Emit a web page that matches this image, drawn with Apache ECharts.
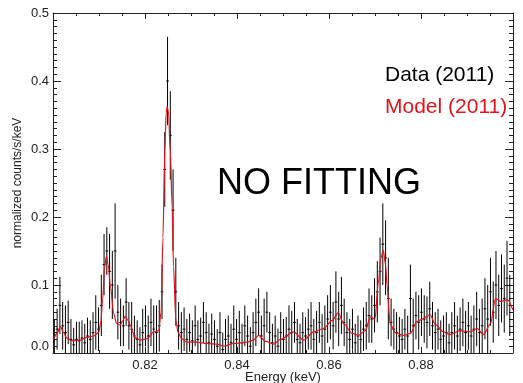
<!DOCTYPE html>
<html>
<head>
<meta charset="utf-8">
<script src="https://cdn.jsdelivr.net/npm/echarts@6/dist/echarts.min.js"></script>
<style>
  html, body { margin: 0; padding: 0; background: #fff; }
  #chart { width: 523px; height: 383px; }
</style>
</head>
<body>
<div id="chart"></div>
<script>
// Binned spectrum: bin centre energies (keV)
const dataEnergy = [
  0.8003, 0.8009, 0.8015, 0.8021, 0.8027, 0.8033, 0.8039, 0.8045, 0.8051, 0.8057,
  0.8063, 0.8069, 0.8075, 0.8081, 0.8087, 0.8093, 0.8099, 0.8105, 0.8111, 0.8117,
  0.8123, 0.8129, 0.8135, 0.8141, 0.8147, 0.8153, 0.8159, 0.8165, 0.8171, 0.8177,
  0.8183, 0.8189, 0.8195, 0.8201, 0.8207, 0.8213, 0.8219, 0.8225, 0.8231, 0.8237,
  0.8243, 0.8249, 0.8255, 0.8261, 0.8267, 0.8273, 0.8279, 0.8285, 0.8291, 0.8297,
  0.8303, 0.8309, 0.8315, 0.8321, 0.8327, 0.8333, 0.8339, 0.8345, 0.8351, 0.8357,
  0.8363, 0.8369, 0.8375, 0.8381, 0.8387, 0.8393, 0.8399, 0.8405, 0.8411, 0.8417,
  0.8423, 0.8429, 0.8435, 0.8441, 0.8447, 0.8453, 0.8459, 0.8465, 0.8471, 0.8477,
  0.8483, 0.8489, 0.8495, 0.8501, 0.8507, 0.8513, 0.8519, 0.8525, 0.8531, 0.8537,
  0.8543, 0.8549, 0.8555, 0.8561, 0.8567, 0.8573, 0.8579, 0.8585, 0.8591, 0.8597,
  0.8603, 0.8609, 0.8615, 0.8621, 0.8627, 0.8633, 0.8639, 0.8645, 0.8651, 0.8657,
  0.8663, 0.8669, 0.8675, 0.8681, 0.8687, 0.8693, 0.8699, 0.8705, 0.8711, 0.8717,
  0.8723, 0.8729, 0.8735, 0.8741, 0.8747, 0.8753, 0.8759, 0.8765, 0.8771, 0.8777,
  0.8783, 0.8789, 0.8795, 0.8801, 0.8807, 0.8813, 0.8819, 0.8825, 0.8831, 0.8837,
  0.8843, 0.8849, 0.8855, 0.8861, 0.8867, 0.8873, 0.8879, 0.8885, 0.8891, 0.8897,
  0.8903, 0.8909, 0.8915, 0.8921, 0.8927, 0.8933, 0.8939, 0.8945, 0.8951, 0.8957,
  0.8963, 0.8969, 0.8975, 0.8981, 0.8987, 0.8993
];

// Observed rate per bin (counts/s/keV)
const dataValue = [
  0.025, 0.035, 0.070, 0.040, 0.030, 0.045, 0.020, 0.012, 0.020, 0.018,
  0.022, 0.015, 0.025, 0.020, 0.030, 0.045, 0.035, 0.070, 0.130, 0.150,
  0.120, 0.100, 0.150, 0.060, 0.045, 0.040, 0.075, 0.040, 0.035, 0.025,
  0.020, 0.012, 0.030, 0.040, 0.025, 0.045, 0.035, 0.030, 0.040, 0.090,
  0.270, 0.400, 0.320, 0.210, 0.090, 0.040, 0.030, 0.035, 0.020, 0.030,
  0.018, 0.040, 0.020, 0.025, 0.045, 0.030, 0.015, 0.028, 0.020, 0.010,
  0.030, 0.005, 0.020, 0.025, 0.015, 0.035, 0.020, 0.030, 0.015, 0.040,
  0.025, 0.010, 0.030, 0.045, 0.060, 0.025, 0.040, 0.060, 0.030, 0.015,
  0.025, 0.010, 0.030, 0.020, 0.025, 0.035, 0.030, 0.045, 0.020, 0.015,
  0.030, 0.025, 0.035, 0.040, 0.020, 0.030, 0.045, 0.025, 0.035, 0.050,
  0.060, 0.040, 0.075, 0.050, 0.070, 0.045, 0.030, 0.020, 0.035, 0.015,
  0.025, 0.020, 0.035, 0.040, 0.055, 0.050, 0.070, 0.090, 0.120, 0.160,
  0.140, 0.080, 0.045, 0.035, 0.030, 0.025, 0.020, 0.035, 0.025, 0.080,
  0.040, 0.055, 0.045, 0.060, 0.050, 0.045, 0.065, 0.040, 0.030, 0.035,
  0.020, 0.025, 0.030, 0.015, 0.030, 0.040, 0.025, 0.035, 0.045, 0.030,
  0.040, 0.025, 0.035, 0.050, 0.030, 0.040, 0.065, 0.050, 0.090, 0.060,
  0.100, 0.070, 0.095, 0.080, 0.110, 0.070
];

// 1-sigma uncertainty per bin
const dataError = [
  0.025, 0.030, 0.042, 0.035, 0.040, 0.032, 0.030, 0.025, 0.026, 0.028,
  0.026, 0.028, 0.027, 0.028, 0.030, 0.040, 0.032, 0.045, 0.045, 0.035,
  0.055, 0.050, 0.070, 0.040, 0.035, 0.030, 0.035, 0.035, 0.040, 0.030,
  0.028, 0.026, 0.035, 0.030, 0.030, 0.035, 0.035, 0.040, 0.038, 0.040,
  0.055, 0.065, 0.065, 0.060, 0.050, 0.035, 0.030, 0.032, 0.030, 0.028,
  0.030, 0.030, 0.028, 0.027, 0.030, 0.030, 0.028, 0.030, 0.028, 0.025,
  0.030, 0.025, 0.030, 0.030, 0.028, 0.035, 0.030, 0.032, 0.028, 0.030,
  0.030, 0.028, 0.030, 0.035, 0.035, 0.030, 0.040, 0.030, 0.030, 0.028,
  0.030, 0.026, 0.030, 0.030, 0.028, 0.035, 0.032, 0.030, 0.030, 0.028,
  0.030, 0.028, 0.030, 0.035, 0.030, 0.032, 0.030, 0.032, 0.035, 0.035,
  0.040, 0.035, 0.045, 0.040, 0.042, 0.035, 0.030, 0.030, 0.030, 0.028,
  0.030, 0.028, 0.032, 0.035, 0.040, 0.035, 0.040, 0.045, 0.050, 0.060,
  0.055, 0.060, 0.035, 0.030, 0.030, 0.028, 0.030, 0.030, 0.030, 0.050,
  0.040, 0.035, 0.040, 0.035, 0.035, 0.038, 0.040, 0.035, 0.030, 0.030,
  0.028, 0.030, 0.030, 0.028, 0.030, 0.035, 0.030, 0.032, 0.035, 0.032,
  0.035, 0.030, 0.035, 0.040, 0.035, 0.040, 0.045, 0.050, 0.050, 0.045,
  0.050, 0.045, 0.050, 0.050, 0.055, 0.045
];

// Model curve
const modelEnergy = [
  0.8000, 0.8008, 0.8016, 0.8023, 0.8030, 0.8041, 0.8059, 0.8074, 0.8088, 0.8099,
  0.8104, 0.8108, 0.8112, 0.8116, 0.8120, 0.8125, 0.8132, 0.8138, 0.8146, 0.8152,
  0.8157, 0.8163, 0.8168, 0.8174, 0.8179, 0.8190, 0.8204, 0.8219, 0.8230, 0.8235,
  0.8239, 0.8243, 0.8246, 0.8248, 0.8251, 0.8255, 0.8259, 0.8262, 0.8267, 0.8272,
  0.8280, 0.8291, 0.8313, 0.8335, 0.8357, 0.8371, 0.8393, 0.8422, 0.8436, 0.8447,
  0.8462, 0.8480, 0.8494, 0.8523, 0.8545, 0.8567, 0.8588, 0.8607, 0.8620, 0.8632,
  0.8650, 0.8664, 0.8679, 0.8690, 0.8700, 0.8707, 0.8713, 0.8718, 0.8723, 0.8726,
  0.8733, 0.8744, 0.8762, 0.8777, 0.8791, 0.8806, 0.8813, 0.8820, 0.8831, 0.8849,
  0.8863, 0.8885, 0.8907, 0.8922, 0.8936, 0.8951, 0.8962, 0.8973, 0.8988, 0.9000
];
const modelValue = [
  0.020, 0.028, 0.039, 0.030, 0.022, 0.018, 0.019, 0.023, 0.025, 0.030,
  0.045, 0.080, 0.125, 0.142, 0.130, 0.097, 0.058, 0.044, 0.041, 0.048,
  0.054, 0.048, 0.041, 0.030, 0.022, 0.019, 0.021, 0.031, 0.033, 0.060,
  0.170, 0.298, 0.353, 0.362, 0.355, 0.298, 0.215, 0.127, 0.048, 0.030,
  0.021, 0.016, 0.016, 0.014, 0.013, 0.010, 0.014, 0.016, 0.019, 0.026,
  0.017, 0.013, 0.020, 0.031, 0.019, 0.031, 0.036, 0.048, 0.059, 0.043,
  0.029, 0.026, 0.033, 0.053, 0.050, 0.102, 0.140, 0.151, 0.130, 0.100,
  0.043, 0.030, 0.026, 0.029, 0.046, 0.051, 0.054, 0.056, 0.042, 0.031,
  0.027, 0.033, 0.031, 0.036, 0.027, 0.043, 0.080, 0.076, 0.078, 0.063
];

// Axis tick labels
const xTickLabels = ['0.82', '0.84', '0.86', '0.88'];
const yTickLabels = ['0.0', '0.1', '0.2', '0.3', '0.4', '0.5'];

const FONT = '"Liberation Sans", Arial, Helvetica, sans-serif';
const halfBin = (dataEnergy[1] - dataEnergy[0]) / 2;

const errorRows = dataEnergy.map((e, i) => [e, dataValue[i], dataError[i]]);
const modelRows = modelEnergy.map((e, i) => [e, modelValue[i]]);

function xAxisDef(pos, showLabels) {
  return {
    type: 'value', position: pos, min: 0.80, max: 0.90, interval: 0.02,
    axisLine: { show: true, onZero: false, lineStyle: { color: '#222', width: 1 } },
    axisTick: { show: true, inside: true, length: 6, lineStyle: { color: '#222' } },
    minorTick: { show: true, splitNumber: 4, length: 3, lineStyle: { color: '#222' } },
    splitLine: { show: false },
    axisLabel: {
      show: showLabels, margin: 6, color: '#222', fontFamily: FONT, fontSize: 13,
      formatter: v => {
        const s = v.toFixed(2);
        return xTickLabels.indexOf(s) >= 0 ? s : '';
      }
    },
    name: showLabels ? 'Energy (keV)' : '', nameLocation: 'middle', nameGap: 18,
    nameMoveOverlap: false,
    nameTextStyle: { color: '#222', fontFamily: FONT, fontSize: 13 }
  };
}

function yAxisDef(pos, showLabels) {
  return {
    type: 'value', position: pos, min: 0, max: 0.5, interval: 0.1,
    axisLine: { show: true, onZero: false, lineStyle: { color: '#222', width: 1 } },
    axisTick: { show: true, inside: true, length: 8, lineStyle: { color: '#222' } },
    minorTick: { show: true, splitNumber: 10, length: 4, lineStyle: { color: '#222' } },
    splitLine: { show: false },
    axisLabel: {
      show: showLabels, margin: 4, color: '#222', fontFamily: FONT, fontSize: 13,
      verticalAlignMinLabel: 'bottom',
      formatter: v => yTickLabels[Math.round(v * 10)] || ''
    },
    name: showLabels ? 'normalized counts/s/keV' : '', nameLocation: 'middle', nameGap: 29,
    nameMoveOverlap: false,
    nameTextStyle: { color: '#222', fontFamily: FONT, fontSize: 12 }
  };
}

const chart = echarts.init(document.getElementById('chart'), null, { renderer: 'canvas' });
chart.setOption({
  animation: false,
  backgroundColor: '#fff',
  grid: { left: 53, top: 13, width: 460, height: 340, containLabel: false, outerBoundsMode: 'none' },
  xAxis: [xAxisDef('bottom', true), xAxisDef('top', false)],
  yAxis: [yAxisDef('left', true), yAxisDef('right', false)],
  series: [
    {
      name: 'Data (2011)',
      type: 'custom',
      xAxisIndex: 0, yAxisIndex: 0,
      clip: true,
      data: errorRows,
      renderItem: function (params, api) {
        const x = api.value(0), v = api.value(1), err = api.value(2);
        const top = api.coord([x, v + err]);
        const bot = api.coord([x, v - err]);
        const l = api.coord([x - halfBin, v]);
        const r = api.coord([x + halfBin, v]);
        const st = { stroke: '#000', lineWidth: 1 };
        return {
          type: 'group',
          children: [
            { type: 'line', shape: { x1: top[0], y1: top[1], x2: bot[0], y2: bot[1] }, style: st },
            { type: 'line', shape: { x1: l[0], y1: l[1], x2: r[0], y2: r[1] }, style: st }
          ]
        };
      },
      z: 2
    },
    {
      name: 'Model (2011)',
      type: 'line',
      xAxisIndex: 0, yAxisIndex: 0,
      data: modelRows,
      showSymbol: false,
      smooth: 0.3,
      smoothMonotone: 'x',
      clip: true,
      lineStyle: { color: '#e0141c', width: 1.2 },
      z: 3
    }
  ],
  graphic: [
    { type: 'text', left: 385, top: 65,
      style: { text: 'Data (2011)', fill: '#000', font: '21px ' + FONT } },
    { type: 'text', left: 385, top: 97,
      style: { text: 'Model (2011)', fill: '#e0141c', font: '21px ' + FONT } },
    { type: 'text', left: 217, top: 166,
      style: { text: 'NO FITTING', fill: '#000', font: '36px ' + FONT } }
  ]
});
</script>
</body>
</html>
